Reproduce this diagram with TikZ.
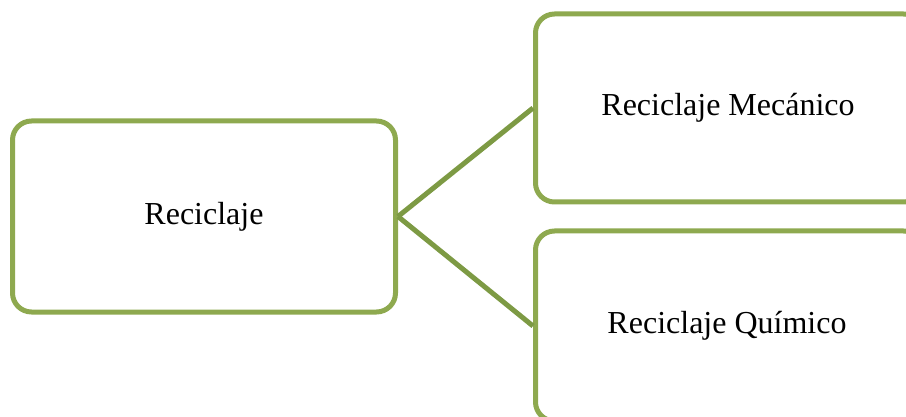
\documentclass[tikz,border=0pt]{standalone}
\usepackage{fontspec}
\setmainfont{Liberation Serif}
\usepackage{tikz}
\usetikzlibrary{positioning}
\definecolor{boxgreen}{HTML}{8EA94F}
\definecolor{linegreen}{HTML}{7D9A44}

\begin{document}
\begin{tikzpicture}[x=1pt, y=-1pt,
    box/.style={draw=boxgreen, line width=5pt, rounded corners=19pt, rectangle},
    label/.style={font=\fontsize{32}{38}\selectfont},
    link/.style={draw=linegreen, line width=5pt}]
          \useasboundingbox (0, 0) rectangle (906, 417);
          \clip (0, 0) rectangle (906, 417);
          \node[box, minimum width=383pt, minimum height=191pt] (rec) at (204, 216.5) {};
          \node[label] (recl) at (rec.center) {Reciclaje};
          \node[box, minimum width=387pt, minimum height=188pt] (mec) at (729, 108) {};
          \node[label] (mecl) at (728, 108) {Reciclaje Mecánico};
          \node[box, minimum width=387pt, minimum height=190pt] (qui) at (729, 326) {};
          \node[label] (quil) at (727, 326) {Reciclaje Químico};
          \draw[link] (rec.east) -- (mec.west);
          \draw[link] (rec.east) -- (qui.west);
        \end{tikzpicture}
\end{document}
